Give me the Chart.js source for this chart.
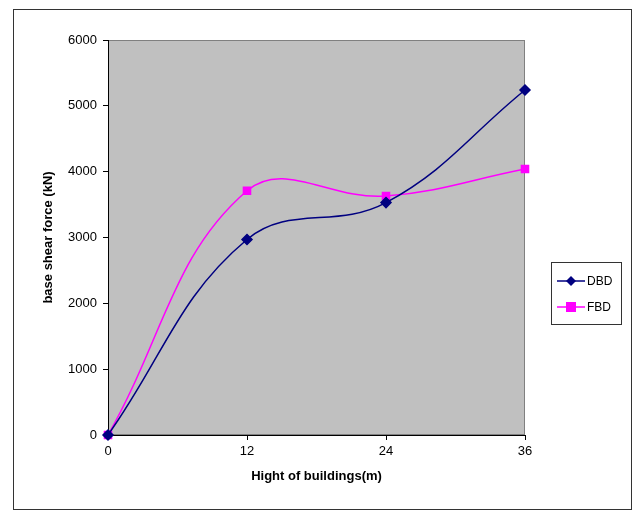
<!DOCTYPE html>
<html>
<head>
<meta charset="utf-8">
<script src="https://cdn.jsdelivr.net/npm/chart.js@4"></script>
<style>
  html, body { margin: 0; padding: 0; background: #fff; }
  #wrap { width: 641px; height: 516px; }
</style>
</head>
<body>
<div id="wrap"><canvas id="shearChart" width="641" height="516"></canvas></div>
<script>
const heights = [0, 12, 24, 36];
const dbdValues = [0, 2970, 3530, 5240];
const fbdValues = [0, 3710, 3630, 4040];
const xTicks = [0, 12, 24, 36];
const yTicks = [0, 1000, 2000, 3000, 4000, 5000, 6000];

const font = "'Liberation Sans', Arial, sans-serif";

// grey plot area + outer frame + excel-style legend
const decorPlugin = {
    id: 'decor',
    beforeDraw(chart) {
        const ctx = chart.ctx;
        const a = chart.chartArea;
        ctx.save();
        ctx.fillStyle = '#fff';
        ctx.fillRect(0, 0, chart.width, chart.height);
        ctx.fillStyle = '#c0c0c0';
        ctx.fillRect(a.left, a.top, a.right - a.left, a.bottom - a.top);
        ctx.strokeStyle = '#808080';
        ctx.lineWidth = 1;
        ctx.strokeRect(a.left + 0.5, a.top + 0.5, a.right - a.left - 1, a.bottom - a.top - 1);
        ctx.strokeStyle = '#333';
        ctx.strokeRect(13.5, 9.5, 618, 500);
        ctx.restore();
    },
    afterDraw(chart) {
        const ctx = chart.ctx;
        ctx.save();
        ctx.strokeStyle = '#333';
        ctx.lineWidth = 1;
        ctx.strokeRect(551.5, 262.5, 70, 62);
        chart.data.datasets.forEach((ds, i) => {
            const y = 281 + i * 26;
            ctx.strokeStyle = ds.borderColor;
            ctx.lineWidth = 1.5;
            ctx.beginPath();
            ctx.moveTo(557, y);
            ctx.lineTo(585, y);
            ctx.stroke();
            ctx.fillStyle = ds.backgroundColor;
            if (ds.pointStyle === 'rect') {
                ctx.fillRect(566, y - 5, 10, 10);
            } else {
                ctx.beginPath();
                ctx.moveTo(571, y - 5);
                ctx.lineTo(576, y);
                ctx.lineTo(571, y + 5);
                ctx.lineTo(566, y);
                ctx.closePath();
                ctx.fill();
            }
            ctx.fillStyle = '#000';
            ctx.font = '12px ' + font;
            ctx.textBaseline = 'middle';
            ctx.fillText(ds.label, 587, y + 1);
        });
        ctx.restore();
    }
};

new Chart(document.getElementById('shearChart'), {
    type: 'line',
    data: {
        datasets: [
            {
                label: 'DBD',
                data: heights.map((h, i) => ({ x: h, y: dbdValues[i] })),
                borderColor: '#000080',
                backgroundColor: '#000080',
                borderWidth: 1.5,
                pointStyle: 'rectRot',
                pointRadius: 5,
                tension: 0.4,
                clip: false
            },
            {
                label: 'FBD',
                data: heights.map((h, i) => ({ x: h, y: fbdValues[i] })),
                borderColor: '#ff00ff',
                backgroundColor: '#ff00ff',
                borderWidth: 1.5,
                pointStyle: 'rect',
                pointRadius: 5,
                tension: 0.4,
                clip: false
            }
        ]
    },
    options: {
        responsive: false,
        animation: false,
        layout: { padding: { left: 37, top: 40, right: 116, bottom: 28 } },
        plugins: {
            legend: { display: false },
            tooltip: { enabled: false }
        },
        scales: {
            x: {
                type: 'linear',
                min: 0,
                max: 36,
                afterBuildTicks: s => { s.ticks = xTicks.map(v => ({ value: v })); },
                afterFit: s => { s.height = 53; },
                grid: { drawOnChartArea: false, drawTicks: true, tickLength: 5, color: '#000' },
                border: { color: '#000' },
                ticks: { color: '#000', font: { family: font, size: 13 }, padding: 4, callback: v => String(v) },
                title: { display: true, text: 'Hight of buildings(m)', color: '#000', font: { family: font, size: 13, weight: 'bold' }, padding: { top: 8 } }
            },
            y: {
                min: 0,
                max: 6000,
                afterBuildTicks: s => { s.ticks = yTicks.map(v => ({ value: v })); },
                afterFit: s => { s.width = 71; },
                grid: { drawOnChartArea: false, drawTicks: true, tickLength: 5, color: '#000' },
                border: { color: '#000' },
                ticks: { color: '#000', font: { family: font, size: 13 }, padding: 6, callback: v => String(v) },
                title: { display: true, text: 'base shear force (kN)', color: '#000', font: { family: font, size: 13, weight: 'bold' }, padding: { bottom: 4 } }
            }
        }
    },
    plugins: [decorPlugin]
});
</script>
</body>
</html>
